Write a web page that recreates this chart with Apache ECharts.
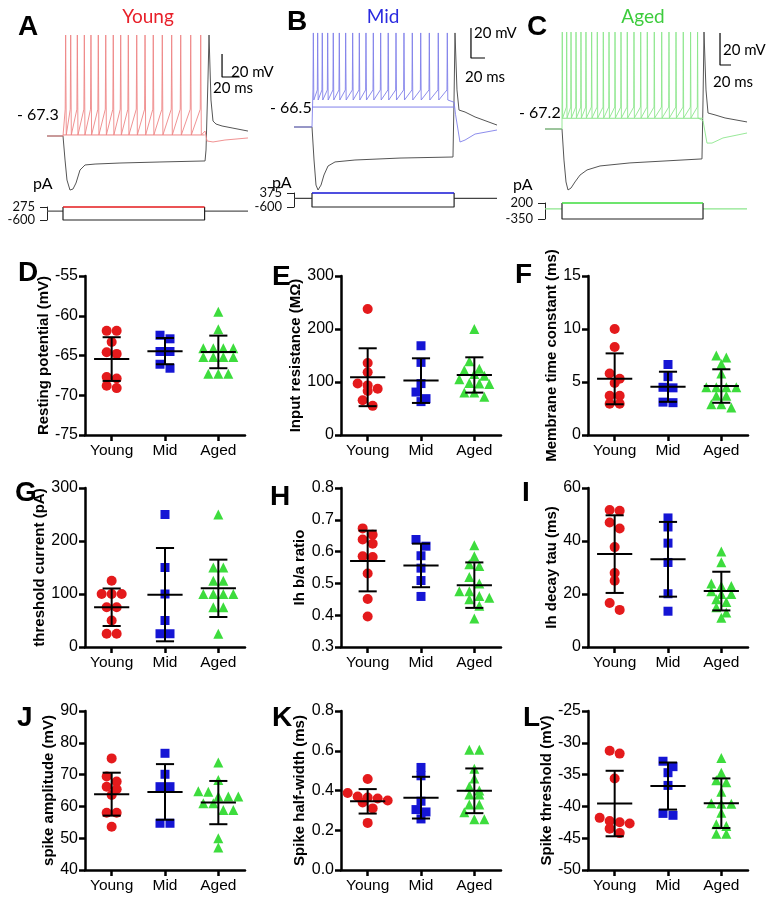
<!DOCTYPE html>
<html><head><meta charset="utf-8">
<script src="https://cdn.jsdelivr.net/npm/echarts@6/dist/echarts.min.js"></script>
<style>html,body{margin:0;padding:0;background:#fff}#c{width:772px;height:900px}</style>
</head><body><div id="c"></div>
<script>
// ================= DATA =================
const groups = ['Young', 'Mid', 'Aged'];

// ---- Panels A-C : example traces (ms, mV) ----
const restA = -67.3, restB = -66.5, restC = -67.2;
const spikesA = [3.0, 8.7, 16.2, 24.1, 31.6, 39.9, 48.3, 56.8, 65.2, 73.8, 83.3, 92.7, 102.0, 112.2, 122.8, 133.0, 144.3, 155.6];
const spikesB = [1.9, 8.1, 14.7, 22.4, 30.4, 39, 48.1, 58.1, 67.6, 77.1, 87.6, 98.1, 108.9, 120, 131.4, 143.3, 155.3, 167.6, 180.4, 193.3];
const spikesC = [0.5, 8.5, 16.4, 25.5, 34.5, 43.6, 53.9, 64.2, 75.1, 85.5, 96.4, 107.3, 118.7, 130.9, 143.1, 155.1, 167.8, 181.3, 194.5, 207.3, 220.5, 233.8, 246.5];
// levels: [peak, trough, threshold, floor]
const levelsA = [20.5, -66.4, -44, -66.4];
const levelsB = [-3.8, -48.5, -41.8, -53.2];
const levelsC = [-6.6, -60.3, -53.5, -60.5];
const blackA = [[-18,-67.3],[0,-67.3],[2.3,-88.2],[4.5,-105.6],[7.9,-114.3],[11.3,-113.4],[14.7,-108.2],[19.2,-96.9],[24.9,-92.5],[36.2,-91.7],[64.4,-90.8],[109.6,-89.9],[160.5,-89.0],[161.6,-79.5],[163.8,-18.6],[165,20.5],[166.1,20.5],[167.2,-36],[169.5,-54.3],[172.9,-56.9],[179.7,-58.6],[191,-60.3],[209,-63]];
const blackB = [[-25.7,-66.5],[0,-66.5],[2.9,-88.5],[5.7,-105.2],[8.6,-108.5],[12.9,-105.2],[17.1,-98.5],[22.9,-92.5],[32.9,-89.8],[61.4,-88.5],[125.7,-87.2],[201.4,-86.5],[202.9,-48.5],[204.3,-3.8],[205.7,-3.8],[207.1,-41.8],[210,-55.2],[218.6,-56.5],[232.9,-59.8],[264.3,-65.2]];
const blackC = [[-30.9,-67.2],[0,-67.2],[3.6,-86.6],[7.3,-100.3],[10.9,-105.3],[16.4,-104.1],[23.6,-100.3],[32.7,-96],[45.5,-92.8],[69.1,-90.3],[123.6,-88.4],[254.5,-85.9],[256.4,-49.1],[258.2,-6.6],[260,-6.6],[261.8,-42.8],[265.5,-57.2],[278.2,-58.4],[296.4,-60.3],[336.4,-62.8]];
const afterA = [[160.5,-63],[162.7,-71.6],[169.5,-72.5],[183,-70.8],[209,-69]];
const afterB = [[203,-50],[205,-58],[211.4,-76.5],[218.6,-75.2],[232.9,-71.2],[264.3,-68.5]];
const afterC = [[256.4,-62],[263.6,-76],[272.7,-76],[292.7,-72.8],[336.4,-69.7]];
// current steps (pA): [positive, negative, step end ms]
const stepA = [275, -600, 160];
const stepB = [375, -600, 203];
const stepC = [200, -350, 256.4];

// ---- Panels D-L : scatter values ----
const D_young = [-61.9, -61.9, -63.3, -64.6, -64.8, -67.7, -67.9, -69.1, -68.8];
const D_mid   = [-62.45, -62.9, -64.5, -64.5, -66.1, -66.6];
const D_aged  = [-59.5, -61.7, -64.1, -64.1, -64.1, -64.1, -65.2, -65.2, -65.2, -65.2, -67.3, -67.3, -67.3];
const D_mean = [-65.45, -64.45, -64.55], D_sd = [2.75, 1.65, 2.05];

const E_young = [237.7, 136, 118.5, 97.3, 93.6, 87.3, 83, 65.5, 55];
const E_mid   = [168.4, 137, 97, 81, 68.6, 63];
const E_aged  = [200, 139, 125, 122, 115, 112, 105, 98, 97, 96, 80, 80, 72];
const E_mean = [109, 102.6, 113.3], E_sd = [54.6, 42.1, 33.3];

const F_young = [10, 8.3, 5.8, 5.3, 4.9, 3.7, 3.7, 2.95, 2.95];
const F_mid   = [6.65, 5.5, 4.5, 4.45, 3.1, 3.05];
const F_aged  = [7.5, 7.3, 6.7, 5.8, 4.5, 4.5, 4.5, 4.5, 3.7, 3.7, 2.9, 2.6, 2.9];
const F_mean = [5.3, 4.55, 4.62], F_sd = [2.4, 1.42, 1.58];

const G_young = [125, 100, 100, 100, 75, 75, 50, 25, 25];
const G_mid   = [250, 150, 100, 50, 25, 25];
const G_aged  = [250, 150, 150, 125, 125, 100, 100, 100, 100, 75, 75, 25];
const G_mean = [75, 98.75, 110.7], G_sd = [35.4, 88, 54.1];

const H_young = [0.673, 0.653, 0.638, 0.625, 0.585, 0.583, 0.531, 0.451, 0.396];
const H_mid   = [0.638, 0.617, 0.587, 0.548, 0.509, 0.459];
const H_aged  = [0.62, 0.585, 0.56, 0.555, 0.52, 0.50, 0.475, 0.475, 0.46, 0.455, 0.45, 0.43, 0.39];
const H_mean = [0.5705, 0.5565, 0.4945], H_sd = [0.0955, 0.0685, 0.0715];

const I_young = [51.4, 51.7, 47, 44.7, 37.7, 27.9, 25, 16.6, 14];
const I_mid   = [48.7, 45.3, 39.2, 31.9, 20.1, 13.5];
const I_aged  = [36, 32, 24, 23, 23, 21, 20, 20, 18, 17, 15, 13, 11];
const I_mean = [35.05, 33.1, 21.1], I_sd = [14.65, 14.1, 7.3];

const J_young = [75.1, 69.4, 67.8, 66.2, 65.4, 63.6, 58, 58, 53.6];
const J_mid   = [76.7, 70.1, 66.2, 66.2, 54.7, 54.7];
const J_aged  = [73.8, 68.3, 64.8, 64.6, 63.1, 63.1, 63.1, 61, 61, 58.9, 58.9, 50, 47.1];
const J_mean = [63.85, 64.55, 61.2], J_sd = [6.75, 8.75, 6.8];

const K_young = [0.458, 0.387, 0.37, 0.365, 0.36, 0.35, 0.34, 0.31, 0.237];
const K_mid   = [0.516, 0.474, 0.346, 0.304, 0.292, 0.257];
const K_aged  = [0.605, 0.605, 0.51, 0.46, 0.42, 0.40, 0.38, 0.38, 0.33, 0.33, 0.29, 0.255, 0.255];
const K_mean = [0.3455, 0.364, 0.3985], K_sd = [0.0615, 0.105, 0.1125];

const L_young = [-31.25, -31.7, -35.6, -41.8, -42.3, -42.5, -42.7, -43.5, -44.2];
const L_mid   = [-32.9, -33.75, -34.7, -36.7, -41.1, -41.4];
const L_aged  = [-32.4, -34.7, -35.9, -36.2, -37.7, -39.5, -39.6, -39.6, -41, -42.8, -43.1, -44.3, -44.3];
const L_mean = [-39.55, -36.8, -39.5], L_sd = [5.15, 3.7, 3.9];

// ================= LAYOUT / STYLE =================
const SANS = '"Liberation Sans", Arial, sans-serif';
const CAL = 'Lato, "Liberation Sans", sans-serif';
const gColors = ['#e41a1c', '#1515d4', '#3ddc3d'];
const gSymbols = ['circle', 'rect', 'triangle'];
const gSizes = [10, 9, 10];
const traceColors = ['#ee8686', '#8080ea', '#8ce68c'];

const traceLayout = [
  {left:47, right:248, top:25, bottom:200, t0px:63, pxPerMs:0.885, restPx:136, pxPerMv:1.15, rest:restA},
  {left:294, right:497, top:25, bottom:200, t0px:312, pxPerMs:0.7, restPx:127, pxPerMv:1.5, rest:restB},
  {left:545, right:747, top:25, bottom:200, t0px:562, pxPerMs:0.55, restPx:129, pxPerMv:1.6, rest:restC}
];
const curLayout = [
  {top:207, height:13}, {top:193, height:14}, {top:203, height:16}
];
const scaleBars = [[179.7, -16.0], [227.1, -20.5], [287.3, -27.2]];
const preColors = ['#555', '#444', traceColors[2]];
const postColors = ['#555', '#444', traceColors[2]];

const option = {animation:false, grid:[], xAxis:[], yAxis:[], series:[], graphic:[]};

function buildTrace(rest, tStart, spikes, lv, after) {
  const [peak, trough, thr] = lv;
  const d = [[tStart, rest], [0, rest]];
  spikes.forEach((t, i) => {
    d.push([t - 0.5, thr]);
    d.push([t, peak]);
    d.push([t + 0.7, trough]);
  });
  after.forEach(p => d.push(p));
  return d;
}

const traces = [
  {spikes:spikesA, lv:levelsA, black:blackA, after:afterA, step:stepA},
  {spikes:spikesB, lv:levelsB, black:blackB, after:afterB, step:stepB},
  {spikes:spikesC, lv:levelsC, black:blackC, after:afterC, step:stepC}
];

traces.forEach((tr, i) => {
  const L = traceLayout[i];
  const xmin = (L.left - L.t0px) / L.pxPerMs, xmax = (L.right - L.t0px) / L.pxPerMs;
  const ymax = L.rest + (L.restPx - L.top) / L.pxPerMv, ymin = L.rest - (L.bottom - L.restPx) / L.pxPerMv;
  option.grid.push({left:L.left, top:L.top, width:L.right - L.left, height:L.bottom - L.top});
  option.xAxis.push({type:'value', gridIndex:i, min:xmin, max:xmax, show:false});
  option.yAxis.push({type:'value', gridIndex:i, min:ymin, max:ymax, show:false});
  const base = {type:'line', xAxisIndex:i, yAxisIndex:i, symbol:'none', silent:true, clip:false};
  option.series.push(Object.assign({}, base, {data:tr.black, lineStyle:{color:'#555', width:1}, z:2}));
  option.series.push(Object.assign({}, base, {data:[[0, tr.lv[3]], [tr.step[2], tr.lv[3]]], lineStyle:{color:traceColors[i], width:1}, z:2}));
  option.series.push(Object.assign({}, base, {data:buildTrace(L.rest, xmin, tr.spikes, tr.lv, tr.after), lineStyle:{color:traceColors[i], width:0.9}, z:3}));
  const sb = scaleBars[i];
  option.series.push(Object.assign({}, base, {data:[[sb[0], sb[1] + 20], [sb[0], sb[1]], [sb[0] + 20, sb[1]]], lineStyle:{color:'#000', width:1.2}, z:3}));
});

traces.forEach((tr, i) => {
  const L = traceLayout[i], C = curLayout[i], gi = 3 + i;
  const xmin = (L.left - L.t0px) / L.pxPerMs, xmax = (L.right - L.t0px) / L.pxPerMs;
  const [pos, neg, end] = tr.step;
  option.grid.push({left:L.left, top:C.top, width:L.right - L.left, height:C.height});
  option.xAxis.push({type:'value', gridIndex:gi, min:xmin, max:xmax, show:false});
  option.yAxis.push({type:'value', gridIndex:gi, min:neg, max:pos,
    axisLine:{show:true, onZero:false, lineStyle:{color:'#222', width:1}},
    axisTick:{show:true, length:7, customValues:[neg, pos], lineStyle:{color:'#222', width:1}},
    axisLabel:{show:true, customValues:[neg, pos], fontSize:13, color:'#111', margin:12, fontFamily:CAL},
    splitLine:{show:false}});
  const base = {type:'line', xAxisIndex:gi, yAxisIndex:gi, symbol:'none', silent:true, clip:false};
  option.series.push(Object.assign({}, base, {data:[[xmin, 0], [0, 0]], lineStyle:{color:preColors[i], width:1.2}}));
  option.series.push(Object.assign({}, base, {data:[[end, 0], [xmax, 0]], lineStyle:{color:postColors[i], width:1.2}}));
  option.series.push(Object.assign({}, base, {data:[[0, pos], [0, neg], [end, neg], [end, pos]], lineStyle:{color:'#222', width:1.2}}));
  option.series.push(Object.assign({}, base, {data:[[0, pos], [end, pos]], lineStyle:{color:gColors[i], width:1.5}, z:3}));
});

// ---- scatter panels ----
const panels = [
  {L:'D', name:'Resting potential (mV)', min:-75, max:-55, iv:5, dec:0, d:[D_young, D_mid, D_aged], m:D_mean, s:D_sd},
  {L:'E', name:'Input resistance (MΩ)', min:0, max:300, iv:100, dec:0, d:[E_young, E_mid, E_aged], m:E_mean, s:E_sd},
  {L:'F', name:'Membrane time constant (ms)', min:0, max:15, iv:5, dec:0, d:[F_young, F_mid, F_aged], m:F_mean, s:F_sd},
  {L:'G', name:'threshold current (pA)', min:0, max:300, iv:100, dec:0, d:[G_young, G_mid, G_aged], m:G_mean, s:G_sd},
  {L:'H', name:'Ih b/a ratio', min:0.3, max:0.8, iv:0.1, dec:1, d:[H_young, H_mid, H_aged], m:H_mean, s:H_sd},
  {L:'I', name:'Ih decay tau (ms)', min:0, max:60, iv:20, dec:0, d:[I_young, I_mid, I_aged], m:I_mean, s:I_sd},
  {L:'J', name:'spike amplitude (mV)', min:40, max:90, iv:10, dec:0, d:[J_young, J_mid, J_aged], m:J_mean, s:J_sd},
  {L:'K', name:'Spike half-width (ms)', min:0, max:0.8, iv:0.2, dec:1, d:[K_young, K_mid, K_aged], m:K_mean, s:K_sd},
  {L:'L', name:'Spike threshold (mV)', min:-50, max:-25, iv:5, dec:0, d:[L_young, L_mid, L_aged], m:L_mean, s:L_sd}
];
const colLeft = [85, 341, 588], rowTop = [276, 488, 711], PW = 160, PH = 159;
const nameGaps = [27, 35, 22, 29, 28, 22, 21, 27, 31];
const letterPos = [[18,273],[272,277],[515,275],[15,493],[270,497],[522,493],[17,718],[272,718],[523,718]];

function swarm(values, center, pxY, pxX) {
  const idx = values.map((v, i) => i).sort((a, b) => values[b] - values[a]);
  const rows = []; let cur = [];
  idx.forEach(i => {
    if (cur.length && Math.abs(values[cur[0]] - values[i]) * pxY > 7.5) { rows.push(cur); cur = []; }
    cur.push(i);
  });
  if (cur.length) rows.push(cur);
  const out = [];
  rows.forEach(r => r.forEach((i, k) => out.push([center + (k - (r.length - 1) / 2) * 10 / pxX, values[i]])));
  return out;
}

function txt(x, y, text, font, color, align) {
  return {type:'text', x:x, y:y, silent:true, style:{text:text, font:font, fill:color || '#000', align:align || 'left', verticalAlign:'middle'}};
}

panels.forEach((p, k) => {
  const gi = 6 + k, left = colLeft[k % 3], top = rowTop[Math.floor(k / 3)];
  option.grid.push({left:left, top:top, width:PW, height:PH});
  option.xAxis.push({type:'value', gridIndex:gi, min:0.5, max:3.5,
    axisLine:{show:true, onZero:false, lineStyle:{color:'#000', width:2.5}},
    axisTick:{show:true, length:6, customValues:[1, 2, 3], lineStyle:{color:'#000', width:2.5}},
    axisLabel:{show:true, customValues:[1, 2, 3], formatter:v => groups[Math.round(v) - 1], fontSize:15.5, color:'#000', margin:8, fontFamily:SANS},
    splitLine:{show:false}});
  option.yAxis.push({type:'value', gridIndex:gi, min:p.min, max:p.max, interval:p.iv,
    axisLine:{show:true, onZero:false, lineStyle:{color:'#000', width:2.5}},
    axisTick:{show:true, length:6, lineStyle:{color:'#000', width:2.5}},
    axisLabel:{fontSize:16, color:'#000', margin:7, fontFamily:SANS, formatter:v => Number(v).toFixed(p.dec)},
    splitLine:{show:false},
    name:p.name, nameLocation:'middle', nameGap:nameGaps[k],
    nameTextStyle:{fontSize:15, fontWeight:'bold', color:'#000', fontFamily:SANS}});
  const pxY = PH / (p.max - p.min), pxX = PW / 3;
  p.d.forEach((vals, g) => {
    option.series.push({type:'scatter', xAxisIndex:gi, yAxisIndex:gi, silent:true,
      data:swarm(vals, g + 1, pxY, pxX), symbol:gSymbols[g], symbolSize:gSizes[g],
      itemStyle:{color:gColors[g], opacity:1}, z:3});
  });
  option.series.push({type:'custom', xAxisIndex:gi, yAxisIndex:gi, silent:true, z:5,
    data:p.m.map((m, g) => [g + 1, m, m - p.s[g], m + p.s[g]]),
    renderItem:function (params, api) {
      const x = api.value(0), m = api.value(1), lo = api.value(2), hi = api.value(3);
      const a = api.coord([x - 0.33, m]), b = api.coord([x + 0.33, m]);
      const c = api.coord([x, lo]), d = api.coord([x, hi]);
      const h1 = api.coord([x - 0.17, hi]), h2 = api.coord([x + 0.17, hi]);
      const l1 = api.coord([x - 0.17, lo]), l2 = api.coord([x + 0.17, lo]);
      const st = {stroke:'#000', lineWidth:2};
      return {type:'group', children:[
        {type:'line', shape:{x1:a[0], y1:a[1], x2:b[0], y2:b[1]}, style:st},
        {type:'line', shape:{x1:c[0], y1:c[1], x2:d[0], y2:d[1]}, style:st},
        {type:'line', shape:{x1:h1[0], y1:h1[1], x2:h2[0], y2:h2[1]}, style:st},
        {type:'line', shape:{x1:l1[0], y1:l1[1], x2:l2[0], y2:l2[1]}, style:st}
      ]};
    }});
  option.graphic.push(txt(letterPos[k][0], letterPos[k][1], p.L, 'bold 28px ' + SANS, '#000'));
});

option.graphic.push(
  txt(18, 27, 'A', 'bold 28px ' + SANS), txt(287, 22, 'B', 'bold 28px ' + SANS), txt(527, 27, 'C', 'bold 28px ' + SANS),
  txt(148, 17, 'Young', '19px ' + CAL, '#e8202a', 'center'),
  txt(383, 17, 'Mid', '19px ' + CAL, '#2a2ae0', 'center'),
  txt(643, 17, 'Aged', '19px ' + CAL, '#3dcc3d', 'center'),
  txt(17, 115, '- 67.3', '16px ' + CAL), txt(270, 108, '- 66.5', '16px ' + CAL), txt(519, 113, '- 67.2', '16px ' + CAL),
  txt(33, 184, 'pA', '16px ' + CAL), txt(272, 183, 'pA', '16px ' + CAL), txt(513, 185, 'pA', '16px ' + CAL),
  txt(231, 72, '20 mV', '15px ' + CAL), txt(213, 88, '20 ms', '15px ' + CAL),
  txt(474, 33, '20 mV', '15px ' + CAL), txt(465, 77, '20 ms', '15px ' + CAL),
  txt(723, 50, '20 mV', '15px ' + CAL), txt(713, 82, '20 ms', '15px ' + CAL)
);

const chart = echarts.init(document.getElementById('c'), null, {renderer:'canvas'});
chart.setOption(option);
</script>
</body></html>
